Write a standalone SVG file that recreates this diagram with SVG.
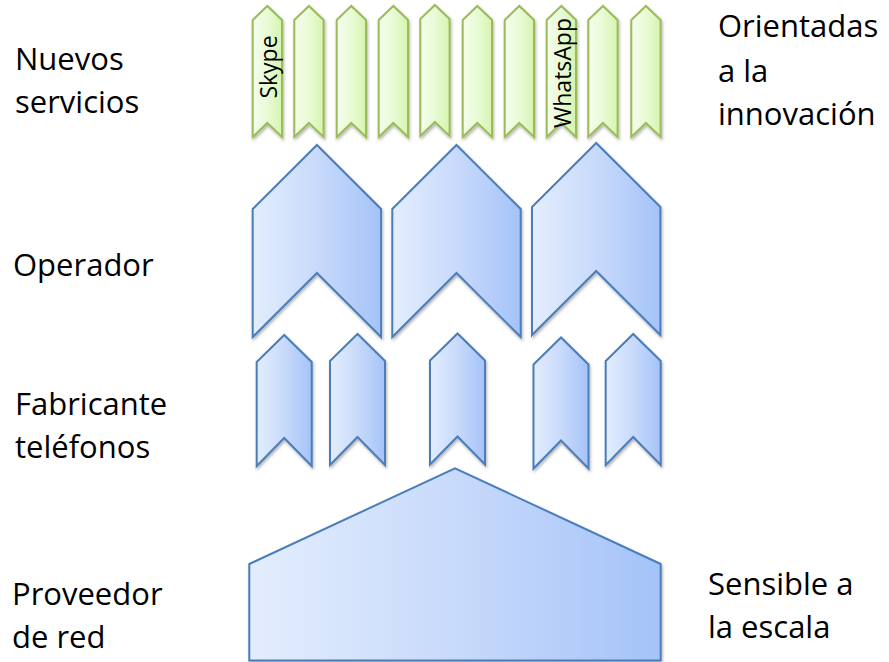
<svg xmlns="http://www.w3.org/2000/svg" width="889" height="662" viewBox="0 0 889 662">
<defs>
<linearGradient id="gb" x1="0" y1="0" x2="1" y2="0">
<stop offset="0" stop-color="#E3EDFD"/>
<stop offset="0.5" stop-color="#C8DAFB"/>
<stop offset="1" stop-color="#A5C3F8"/>
</linearGradient>
<linearGradient id="gg" x1="0" y1="0" x2="1" y2="0">
<stop offset="0" stop-color="#F4FDEC"/>
<stop offset="0.5" stop-color="#E8FBD5"/>
<stop offset="1" stop-color="#D6F4AF"/>
</linearGradient>
<filter id="sh" x="-20%" y="-20%" width="140%" height="140%">
<feDropShadow dx="1" dy="2" stdDeviation="1.8" flood-color="#000" flood-opacity="0.3"/>
</filter>
<path id="gc" d="M0 14 L14.6 0 L29.3 14 L29.3 131 L14.6 117 L0 131 Z"/>
<path id="oc" d="M0 64 L64.2 0 L128.4 64 L128.4 192 L64.2 128 L0 192 Z"/>
<path id="fc" d="M0 27 L27.5 0 L55 27 L55 131 L27.5 103 L0 131 Z"/>
</defs>
<style>
.b{fill:url(#gb);stroke:#4A7EBB;stroke-width:2;stroke-linejoin:miter;filter:url(#sh)}
.g{fill:url(#gg);stroke:#9BBB59;stroke-width:2;filter:url(#sh)}
.lab{font-family:"Open Sans","Liberation Sans",sans-serif;font-size:31px;fill:#000}
.v{font-family:"Open Sans","Liberation Sans",sans-serif;font-size:23px;fill:#000;text-anchor:middle}
</style>
<g id="labels">
<text class="lab" x="15" y="70">Nuevos</text>
<text class="lab" x="15" y="113">servicios</text>
<text class="lab" x="13" y="276">Operador</text>
<text class="lab" x="15" y="415">Fabricante</text>
<text class="lab" x="15" y="458">teléfonos</text>
<text class="lab" x="12" y="605">Proveedor</text>
<text class="lab" x="12" y="648">de red</text>
<text class="lab" x="718" y="37">Orientadas</text>
<text class="lab" x="718" y="82">a la</text>
<text class="lab" x="718" y="125">innovación</text>
<text class="lab" x="708" y="595">Sensible a</text>
<text class="lab" x="708" y="638">la escala</text>
</g>
<g id="servicios">
<g id="s1"><use href="#gc" class="g" x="252.7" y="6"/><text class="v" transform="translate(277 67) rotate(-90)">Skype</text></g>
<g id="s2"><use href="#gc" class="g" x="294.3" y="6"/></g>
<g id="s3"><use href="#gc" class="g" x="336.7" y="6"/></g>
<g id="s4"><use href="#gc" class="g" x="378.7" y="6"/></g>
<g id="s5"><use href="#gc" class="g" x="420.3" y="5"/></g>
<g id="s6"><use href="#gc" class="g" x="462.7" y="6"/></g>
<g id="s7"><use href="#gc" class="g" x="504.7" y="6"/></g>
<g id="s8"><use href="#gc" class="g" x="546.7" y="6"/><text class="v" transform="translate(571 73) rotate(-90)">WhatsApp</text></g>
<g id="s9"><use href="#gc" class="g" x="588.3" y="6"/></g>
<g id="s10"><use href="#gc" class="g" x="631.3" y="6"/></g>
</g>
<g id="operador">
<g id="o1"><use href="#oc" class="b" x="252.7" y="145"/></g>
<g id="o2"><use href="#oc" class="b" x="392.3" y="145"/></g>
<g id="o3"><use href="#oc" class="b" x="532" y="143"/></g>
</g>
<g id="fabricante">
<g id="f1"><use href="#fc" class="b" x="256.7" y="335"/></g>
<g id="f2"><use href="#fc" class="b" x="330" y="334"/></g>
<g id="f3"><use href="#fc" class="b" x="430" y="333.5"/></g>
<g id="f4"><use href="#fc" class="b" x="533.5" y="337.5"/></g>
<g id="f5"><use href="#fc" class="b" x="605.7" y="334"/></g>
</g>
<g id="proveedor">
<path class="b" d="M249.3 564 L455 468.3 L660.7 564 L660.7 660.5 L249.3 660.5 Z"/>
</g>
<g id="connectors"/>
</svg>
